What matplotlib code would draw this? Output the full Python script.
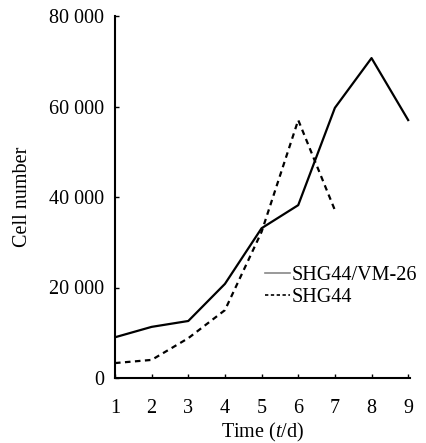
import matplotlib
matplotlib.use("Agg")
import matplotlib.pyplot as plt
from matplotlib.lines import Line2D

days = [1, 2, 3, 4, 5, 6, 7, 8, 9]
vm26 = [9000, 11300, 12600, 20800, 33100, 38200, 59700, 70700, 57000]
days_shg = [1, 2, 3, 4, 5, 6, 7]
shg44 = [3300, 4000, 8800, 15000, 32300, 57000, 37100]
yticks = [0, 20000, 40000, 60000, 80000]
ytick_labels = ["0", "20 000", "40 000", "60 000", "80 000"]

plt.rcParams['font.family'] = ['Liberation Serif', 'DejaVu Serif']
plt.rcParams['mathtext.fontset'] = 'custom'
plt.rcParams['mathtext.it'] = 'Liberation Serif:italic'
plt.rcParams['mathtext.rm'] = 'Liberation Serif'

fig = plt.figure(figsize=(4.26, 4.43), dpi=100)
ax = fig.add_axes([115/426, 65/443, 295/426, 362/443])

ax.plot(days, vm26, color='black', lw=1.6, solid_joinstyle='round')
ax.plot(days_shg, shg44, color='black', lw=1.6, ls=(0, (2.5, 2.0)))

ax.set_xlim(1, 9.05)
ax.set_ylim(0, 80000)
ax.set_xticks(days)
ax.set_yticks(yticks)
ax.set_yticklabels(ytick_labels)
for s in ['top', 'right']:
    ax.spines[s].set_visible(False)
for s in ['left', 'bottom']:
    ax.spines[s].set_linewidth(1.5)
ax.tick_params(axis='both', direction='in', length=3, width=1, labelsize=14.5)
ax.tick_params(axis='x', pad=15)
ax.tick_params(axis='y', pad=8)

ax.set_xlabel("Time ($t$/d)", fontsize=14.5, labelpad=2)
ax.set_ylabel("Cell number", fontsize=14.5, labelpad=12)

handles = [Line2D([], [], color='#888888', lw=1.2),
           Line2D([], [], color='black', lw=1.2, ls=(0, (2, 1.5)))]
ax.legend(handles, ["SHG44/VM-26", "SHG44"], loc='upper left',
          bbox_to_anchor=(0.51, 0.31), frameon=False, fontsize=14.5,
          handlelength=1.2, handletextpad=0.1, labelspacing=0.15,
          borderaxespad=0, borderpad=0)

fig.savefig("out.png", dpi=100)
